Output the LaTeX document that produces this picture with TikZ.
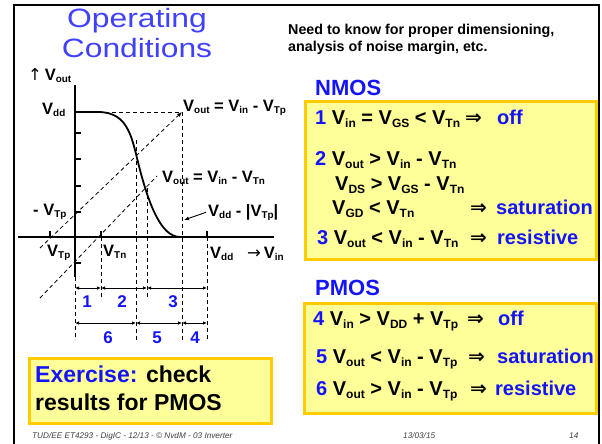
\documentclass[tikz,border=0pt]{standalone}
\usepackage{fontspec}
\setmainfont{Liberation Sans}
\newfontfamily\symfont{DejaVu Sans}
\usetikzlibrary{arrows.meta,positioning}
\definecolor{slideblue}{RGB}{20,20,250}
\definecolor{titleblue}{RGB}{64,64,255}
\definecolor{notefill}{RGB}{255,255,153}
\definecolor{noteline}{RGB}{255,204,0}
\newcommand{\low}[1]{\raisebox{-.15em}{\scalebox{.6}{#1}}}

\begin{document}
\begin{tikzpicture}[
  x=1pt, y=-1pt,
  font=\bfseries,
  heading/.style={anchor=base, inner sep=0pt, text=titleblue,
    font=\fontsize{26.5}{30}\selectfont\mdseries},
  remark/.style={anchor=base west, inner sep=0pt, font=\fontsize{14.3}{16}\selectfont\bfseries},
  lbl/.style={anchor=base west, inner sep=0pt, font=\fontsize{16.5}{20}\selectfont\bfseries},
  cond/.style={anchor=base west, inner sep=0pt, font=\fontsize{20}{22}\selectfont\bfseries},
  kind/.style={cond, text=slideblue},
  region/.style={inner sep=0pt, text=slideblue, font=\fontsize{17}{20}\selectfont\bfseries},
  notebox/.style={draw=noteline, fill=notefill, line width=2.5pt, anchor=north west, inner sep=0pt},
  footer/.style={anchor=base west, inner sep=0pt, text=black!75,
    font=\fontsize{8.2}{9}\selectfont\mdseries\itshape},
  axisline/.style={line width=2.6pt},
  guide/.style={dash pattern=on 4pt off 3pt, line width=.8pt},
  dimline/.style={{Latex[length=4pt,width=3.5pt]}-{Latex[length=4pt,width=3.5pt]}, line width=.9pt},
  pointer/.style={-{Latex[length=5pt,width=4pt]}, line width=.9pt}
]
\useasboundingbox (0,0) rectangle (602,444);
\draw[line width=2pt] (14,444) -- (14,5) -- (599,5) -- (599,444);

\node[heading] (titletop) at (137,28) {\scalebox{1.2}[1]{Operating}};
\node[heading] (titlebot) at (137,58) {\scalebox{1.2}[1]{Conditions}};
\node[remark] (need) at (288,35) {Need to know for proper dimensioning,};
\node[remark] (needb) at (288,52) {analysis of noise margin, etc.};

% transfer curve
\draw[axisline] (75,85) -- (75,277);
\draw[axisline] (18,237) -- (274,237);
\foreach \ty in {133,159,186,212,263}
  \draw[line width=2pt] (75,\ty) -- (81,\ty);
\foreach \tx in {50,101,207}
  \draw[line width=2pt] (\tx,237) -- (\tx,231);
\draw[line width=1.8pt] (75,112) -- (98,112) .. controls (130,112) and (132,140) .. (140,170)
  .. controls (148,200) and (160,237) .. (180,237);

\draw[guide] (98,112) -- (182,112) -- (182,340);
\draw[guide] (136,140) -- (136,340);
\draw[guide] (147,188) -- (147,298);
\draw[guide] (101,237) -- (101,300);
\draw[guide] (75,277) -- (75,340);
\draw[guide] (207,237) -- (207,340);
\draw[guide, -{Latex[length=5pt,width=4pt]}] (40,248) -- (182,112);
\draw[guide] (40,298) -- (157,176);

\node[lbl] (yname) at (28,80) {{\symfont\mdseries↑}\,V\low{out}};
\node[lbl] (yvdd) at (42,114) {V\low{dd}};
\node[lbl] (linetp) at (183,111) {V\low{out} = V\low{in} - V\low{Tp}};
\node[lbl] (linetn) at (162,182) {V\low{out} = V\low{in} - V\low{Tn}};
\node[lbl] (vddtp) at (208,216) {V\low{dd} - |V\low{Tp}|};
\node[lbl] (negvtp) at (33,215) {- V\low{Tp}};
\node[lbl] (xvtp) at (47,256) {V\low{Tp}};
\node[lbl] (xvtn) at (103,256) {V\low{Tn}};
\node[lbl] (xvdd) at (210,258) {V\low{dd}};
\node[lbl] (xname) at (247,258) {{\symfont\mdseries→}\,V\low{in}};
\coordinate (vddmark) at (184,220);
\draw[pointer] ([xshift=-2pt]vddtp.west) -- (vddmark);

\foreach \a/\b in {75/101,101/147,147/207}
  \draw[dimline] (\a,288) -- (\b,288);
\foreach \a/\b in {75/136,136/182,182/207}
  \draw[dimline] (\a,323) -- (\b,323);
\node[region] (r1) at (87,302) {1};
\node[region] (r2) at (122,302) {2};
\node[region] (r3) at (173,302) {3};
\node[region] (r6) at (108,338) {6};
\node[region] (r5) at (157,338) {5};
\node[region] (r4) at (195,338) {4};

% exercise
\node[notebox, minimum width=242pt, minimum height=65pt] (exercise) at (28,357) {};
\node[cond, font=\fontsize{23}{28}\selectfont\bfseries] (exa) at (35,382)
  {\textcolor{slideblue}{Exercise:} check};
\node[cond, font=\fontsize{23}{28}\selectfont\bfseries] (exb) at (35,410) {results for PMOS};

% NMOS
\node[cond, text=slideblue, font=\fontsize{22}{24}\selectfont\bfseries] (nmos) at (315,95) {NMOS};
\node[notebox, minimum width=291pt, minimum height=158pt] (nmosbox) at (304,100) {};
\node[cond] (n1) at (315,124) {\textcolor{slideblue}{1} V\low{in} = V\low{GS} < V\low{Tn}};
\node[cond] (n1i) at (465,124) {\symfont ⇒};
\node[kind] (n1k) at (497,124) {off};
\node[cond] (n2) at (315,165) {\textcolor{slideblue}{2} V\low{out} > V\low{in} - V\low{Tn}};
\node[cond] (n2b) at (335,190) {V\low{DS} > V\low{GS} - V\low{Tn}};
\node[cond] (n2c) at (332,214) {V\low{GD} < V\low{Tn}};
\node[cond] (n2i) at (470,214) {\symfont ⇒};
\node[kind] (n2k) at (496,214) {saturation};
\node[cond] (n3) at (317,244) {\textcolor{slideblue}{3} V\low{out} < V\low{in} - V\low{Tn}};
\node[cond] (n3i) at (470,244) {\symfont ⇒};
\node[kind] (n3k) at (497,244) {resistive};

% PMOS
\node[cond, text=slideblue, font=\fontsize{22}{24}\selectfont\bfseries] (pmos) at (315,295) {PMOS};
\node[notebox, minimum width=292pt, minimum height=110pt] (pmosbox) at (303,302) {};
\node[cond] (p4) at (313,325) {\textcolor{slideblue}{4} V\low{in} > V\low{DD} + V\low{Tp}};
\node[cond] (p4i) at (467,325) {\symfont ⇒};
\node[kind] (p4k) at (498,325) {off};
\node[cond] (p5) at (316,363) {\textcolor{slideblue}{5} V\low{out} < V\low{in} - V\low{Tp}};
\node[cond] (p5i) at (468,363) {\symfont ⇒};
\node[kind] (p5k) at (497,363) {saturation};
\node[cond] (p6) at (316,395) {\textcolor{slideblue}{6} V\low{out} > V\low{in} - V\low{Tp}};
\node[cond] (p6i) at (470,395) {\symfont ⇒};
\node[kind] (p6k) at (495,395) {resistive};

\node[footer] (course) at (32,438) {TUD/EE ET4293 - DigIC - 12/13 - © NvdM - 03 Inverter};
\node[footer] (date) at (403,438) {13/03/15};
\node[footer] (page) at (569,438) {14};
\end{tikzpicture}
\end{document}
